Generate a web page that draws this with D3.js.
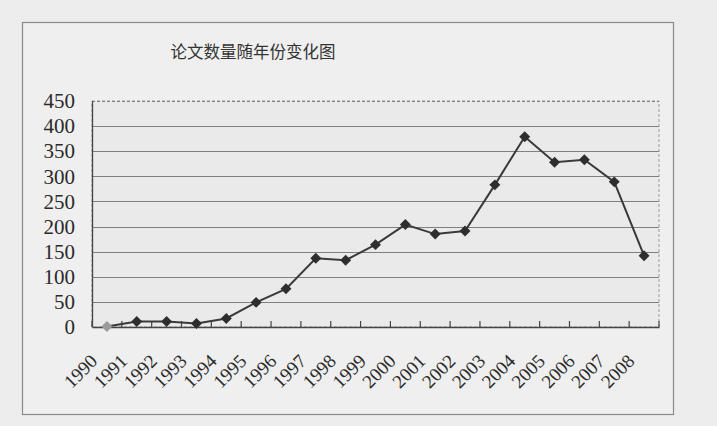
<!DOCTYPE html>
<html><head><meta charset="utf-8">
<script src="https://cdn.jsdelivr.net/npm/d3@7"></script>
<style>
html,body{margin:0;padding:0;background:#ececec;}
svg{display:block;}
</style></head>
<body>
<svg id="chart" width="717" height="426"></svg>
<script>
const title = "论文数量随年份变化图";
const years = ["1990","1991","1992","1993","1994","1995","1996","1997","1998","1999","2000","2001","2002","2003","2004","2005","2006","2007","2008"];
const counts = [1, 11, 11, 7, 17, 49, 76, 137, 133, 164, 204, 185, 191, 283, 379, 328, 333, 289, 142];
const yTicks = [0, 50, 100, 150, 200, 250, 300, 350, 400, 450];

const svg = d3.select("#chart");
const W = 717, H = 426;
const m = {left: 92, top: 101, right: 659, bottom: 327};

svg.append("rect").attr("width", W).attr("height", H).attr("fill", "#ededed");
// outer chart frame
svg.append("rect").attr("x", 22.5).attr("y", 22.5).attr("width", 651).attr("height", 392)
  .attr("fill", "#efefef").attr("stroke", "#8a8a8a").attr("stroke-width", 1.2);

// plot area
svg.append("rect").attr("x", m.left).attr("y", m.top)
  .attr("width", m.right - m.left).attr("height", m.bottom - m.top)
  .attr("fill", "#eaeaea").attr("stroke", "#9a9a9a").attr("stroke-dasharray", "3,2");

const x = d3.scaleBand().domain(years).range([m.left, m.right]).padding(0);
const y = d3.scaleLinear().domain([0, 450]).range([m.bottom, m.top]);

// gridlines
svg.append("g").selectAll("line").data(yTicks.filter(d => d > 0)).join("line")
  .attr("x1", m.left).attr("x2", m.right)
  .attr("y1", d => Math.round(y(d)) + 0.5).attr("y2", d => Math.round(y(d)) + 0.5)
  .attr("stroke", "#808080").attr("stroke-width", 1.1).attr("stroke-dasharray", d => d === 450 ? "3,2" : null);

// y axis
const yAxis = d3.axisLeft(y).tickValues(yTicks).tickSize(0).tickPadding(17);
const gy = svg.append("g").attr("transform", `translate(${m.left},0)`).call(yAxis);
gy.select(".domain").attr("stroke", "#444").attr("stroke-width", 1.3);
gy.selectAll("text").attr("font-family", "Liberation Serif, serif").attr("font-size", 21)
  .attr("fill", "#2a2a2a");

// x axis
const xAxis = d3.axisBottom(x).tickSize(0).tickFormat("");
const gx = svg.append("g").attr("transform", `translate(0,${m.bottom})`).call(xAxis);
gx.select(".domain").attr("stroke", "#444").attr("stroke-width", 1.3);
// tick marks at category boundaries (pointing up)
const bounds = years.map(d => x(d)).concat([m.right]);
svg.append("g").selectAll("line").data(bounds).join("line")
  .attr("x1", d => d).attr("x2", d => d)
  .attr("y1", m.bottom).attr("y2", m.bottom - 6)
  .attr("stroke", "#444").attr("stroke-width", 1.2);

// x labels rotated
svg.append("g").selectAll("text").data(years).join("text")
  .attr("transform", d => `translate(${x(d) + x.bandwidth() / 2 - 26.5},${m.bottom + 44}) rotate(-45)`)
  .attr("text-anchor", "middle").attr("dy", "0.35em")
  .attr("font-family", "Liberation Serif, serif").attr("font-size", 19)
  .attr("fill", "#2a2a2a").text(d => d);

// line
const line = d3.line().x((d, i) => x(years[i]) + x.bandwidth() / 2).y(d => y(d));
svg.append("path").datum(counts).attr("d", line)
  .attr("fill", "none").attr("stroke", "#3a3a3a").attr("stroke-width", 2);

// markers
svg.append("g").selectAll("path").data(counts).join("path")
  .attr("d", d3.symbol().type(d3.symbolSquare).size(60))
  .attr("transform", (d, i) => `translate(${x(years[i]) + x.bandwidth() / 2},${y(d)}) rotate(45)`)
  .attr("fill", (d, i) => i === 0 ? "#9a9a9a" : "#2e2e2e");

// title
svg.append("text").attr("x", 253).attr("y", 52).attr("dy", "0.35em")
  .attr("text-anchor", "middle").attr("font-family", "Noto Sans CJK SC, sans-serif")
  .attr("font-size", 16.5).attr("fill", "#333").text(title);
</script>
</body></html>
